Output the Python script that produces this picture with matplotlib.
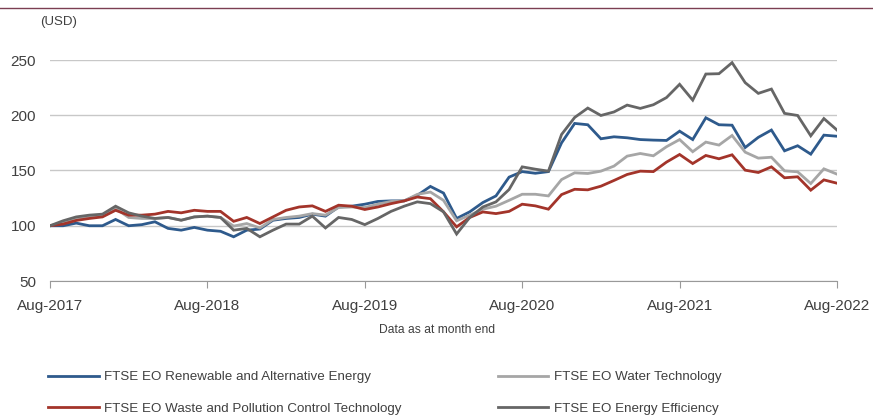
# FTSE EO indices - monthly performance, Aug-2017 to Aug-2022
import matplotlib
matplotlib.use("Agg")
import matplotlib.pyplot as plt
from matplotlib.lines import Line2D

plt.rcParams["font.family"] = ["Liberation Sans", "DejaVu Sans"]

# === 1. Data (rebased to 100) ===
months = list(range(61))  # Aug-2017 .. Aug-2022, month-end
tick_pos = [0, 12, 24, 36, 48, 60]
tick_labels = ["Aug-2017", "Aug-2018", "Aug-2019", "Aug-2020", "Aug-2021", "Aug-2022"]

renewable = [100, 100, 102.4, 100, 100, 105.7, 100, 101, 103.6, 97.6, 96, 98.5, 96, 95, 90, 96,
             97, 105, 106.6, 107.5, 110.5, 108.7, 117, 117.7, 119.5, 122, 122.5, 122.5, 127.5,
             135.6, 129.6, 106.6, 112.6, 121, 127, 144, 149, 147.5, 149, 175, 192.6, 191.4,
             178.7, 180.5, 179.6, 178, 177.5, 177.2, 185.6, 178, 197.7, 191.4, 191, 170.8, 180,
             186.6, 167.8, 172.4, 164.8, 182, 181]
water = [100, 103, 106.6, 108.7, 108.7, 115.6, 107.5, 106.6, 106.6, 107.5, 105, 108, 108.7,
         107.5, 99.7, 102, 98, 105.7, 107.5, 108.7, 111, 109.6, 116.5, 117, 116.5, 119.5, 122,
         122.5, 128.4, 130.5, 123, 104.5, 109.6, 115, 117.7, 123, 128.5, 128.5, 127, 141.8,
         147.9, 147.3, 149.4, 154, 163, 165.4, 163.3, 171.5, 178, 167, 175.7, 173, 181.7,
         166.6, 161.2, 162, 149.7, 148.8, 138.2, 151.5, 146.7]
waste = [100, 101.5, 104.8, 106.6, 108, 114, 109.6, 109.6, 110.5, 113, 111.7, 114, 113, 113,
         104, 107.5, 102, 108, 114, 117, 118, 113, 118.6, 117.7, 114.7, 117, 120, 122.5, 126,
         124.5, 112.6, 99, 107.5, 112.5, 111, 113, 119.5, 118, 115, 128.2, 133, 132.5, 135.8,
         141, 146.4, 149.4, 149, 157.6, 164.5, 156.3, 163.6, 160.6, 164.2, 150.3, 148.2,
         153.3, 143.4, 144.3, 132.2, 141.5, 138.5]
efficiency = [100, 104.5, 108, 109.6, 110.5, 117.7, 111.7, 108.7, 106.6, 107.5, 105, 108,
              108.7, 107.5, 96, 97.6, 90, 96, 101.5, 101.5, 108.7, 98, 107.5, 105.7, 101, 106.6,
              113, 117.7, 121.6, 120, 112.6, 92.5, 107.5, 117, 121.6, 132.8, 153.3, 151.2,
              149.4, 182.6, 198, 206.5, 199.8, 203, 209.2, 206.2, 209.5, 216, 228, 213.7, 237.3,
              237.6, 247.6, 229.5, 219.8, 223.7, 201.7, 199.8, 181.4, 197, 186.6]

names = ["FTSE EO Renewable and Alternative Energy", "FTSE EO Water Technology",
         "FTSE EO Waste and Pollution Control Technology", "FTSE EO Energy Efficiency"]
colors = ["#2e5a8c", "#a6a6a6", "#a3342a", "#666666"]

# === 2. Figure ===
fig = plt.figure(figsize=(8.73, 4.15), dpi=100)
ax = fig.add_axes([50 / 873, 134 / 415, 787 / 873, 221 / 415])

lines = {}
for name, series, c in zip(names, [renewable, water, waste, efficiency], colors):
    lines[name], = ax.plot(months, series, color=c, linewidth=2.0, label=name,
                           solid_joinstyle="miter")

ax.set_xlim(0, 60)
ax.set_ylim(50, 250)
ax.set_yticks([50, 100, 150, 200, 250])
ax.set_xticks(tick_pos)
ax.set_xticklabels(tick_labels)
ax.grid(axis="y", color="#c8c8c8", linewidth=1.0)
ax.set_axisbelow(True)
for s in ["top", "right", "left"]:
    ax.spines[s].set_visible(False)
ax.spines["bottom"].set_color("#999999")
ax.tick_params(axis="x", direction="out", length=5, color="#999999", labelsize=11,
               labelcolor="#404040", pad=8)
ax.tick_params(axis="y", length=0, labelsize=11, labelcolor="#404040", pad=10)

# === 3. Texts ===
fig.add_artist(Line2D([0, 1], [1 - 8 / 415, 1 - 8 / 415], color="#7b3f52", linewidth=1.0))
fig.text(40 / 873, 1 - 22 / 415, "(USD)", fontsize=9.5, color="#404040", va="center")
fig.text(437 / 873, 1 - 330 / 415, "Data as at month end", fontsize=8.7, color="#404040",
         ha="center", va="center")

order = [names[0], names[2], names[1], names[3]]
fig.legend([lines[n] for n in order], order, loc="upper left", ncol=2,
           bbox_to_anchor=(36 / 873, 1 - 359 / 415), frameon=False, fontsize=9.6,
           handlelength=3.8, handletextpad=0.4, columnspacing=7.2, labelspacing=1.45,
           labelcolor="#404040")

plt.savefig("out.png", dpi=100)
plt.close()
